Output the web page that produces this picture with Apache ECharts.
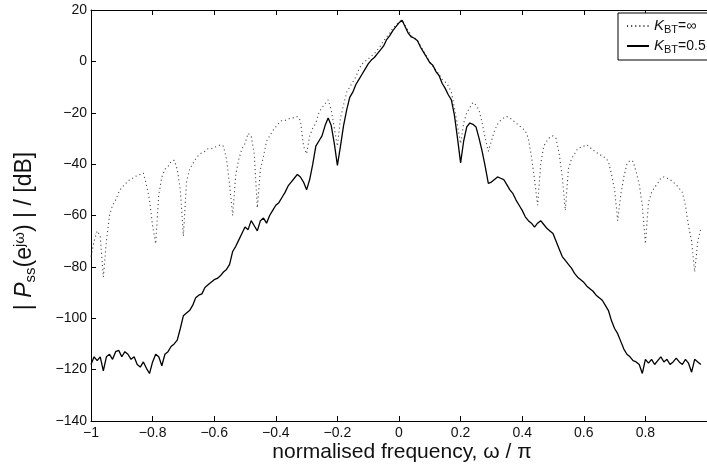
<!DOCTYPE html>
<html>
<head>
<meta charset="utf-8">
<script src="https://cdn.jsdelivr.net/npm/echarts@6/dist/echarts.min.js"></script>
<style>
html,body{margin:0;padding:0;background:#fff;}
#chart{width:707px;height:468px;}
</style>
</head>
<body>
<div id="chart"></div>
<script>
// Frequency grid (normalised frequency, omega/pi), sampled every 0.01 from -1 to 0.98
const freqStart = -1.0;
const freqStep = 0.01;
const freqCount = 199;

// |P_ss| in dB for K_BT = infinity (dotted)
const kInfValues = [
  -76, -70, -66, -68, -84, -70, -60, -56, -54, -51,
  -49, -48, -46.5, -46, -45, -44.5, -44, -43.5, -48, -54,
  -64, -71, -52, -45, -42, -41, -39, -38.5, -42, -50,
  -68, -47, -42, -40, -38, -36.5, -35.5, -35, -34, -34,
  -33.5, -33, -32.5, -33, -38, -48, -60, -44, -38, -34,
  -32, -28, -29, -36, -57, -42, -37, -31, -29, -27,
  -25.5, -24, -23, -23, -22.5, -22, -22, -21.5, -23, -33,
  -36, -29, -26, -24, -20, -18, -16.5, -15, -19, -26,
  -33, -22, -17, -12, -10, -8, -6, -3, -1, 0,
  1, 2, 3, 4.5, 6, 8, 9.5, 11, 13, 14,
  15.5, 16, 14, 12, 10, 9, 8, 6, 4, 2,
  0, -2, -3.5, -5, -7, -8, -9.5, -12, -18, -25,
  -32, -24, -20, -18, -16, -17, -19, -24, -30, -35,
  -31, -27, -24.5, -23, -22, -21.5, -22, -23, -24, -25,
  -26, -27, -30, -37, -46, -56, -40, -33, -31, -29.5,
  -29, -30, -36, -45, -58, -42, -38, -36, -34, -33.5,
  -33, -32.5, -33.5, -34.5, -35.5, -36, -37, -37.5, -39, -44,
  -50, -62, -52, -45, -40, -38.5, -39, -43, -48, -56,
  -71, -55, -51, -49, -47.5, -45.5, -45, -45.5, -46, -47,
  -48, -49.5, -51, -56, -64, -70, -82, -70, -65
];

// |P_ss| in dB for K_BT = 0.5 (solid)
const k05Values = [
  -118, -115, -116.5, -115, -120.5, -115, -114, -116, -113, -112.5,
  -115, -113, -114, -116, -115, -118, -119, -117, -119.5, -121.5,
  -117, -114, -115, -118.5, -114, -113, -111, -110, -108.5, -104,
  -99, -98, -97, -95, -92, -91, -90.5, -88, -87, -86,
  -85, -84.5, -83.5, -82, -81, -79, -74, -72, -69.5, -67,
  -64.5, -65.5, -62, -64, -66, -62, -61, -63, -60, -58,
  -56, -55, -53, -51, -48.5, -47, -45.5, -44, -45, -47,
  -50, -46, -40, -33, -31, -29, -25, -22, -25, -32,
  -40.5, -33, -25, -19, -14, -12, -9, -7, -5, -3,
  -1, 0.5, 1.5, 3, 4.5, 6, 8.5, 10, 12, 13.5,
  15, 16, 13.5, 11, 9.5, 9, 8, 5.5, 3.5, 1.5,
  -0.5, -1.5, -4, -5.5, -8.5, -10.5, -13, -15, -21, -30,
  -39.5, -31, -25.5, -24, -24.5, -25.5, -30, -35, -41, -47.5,
  -47, -46, -45, -45.5, -46, -48, -50, -51.5, -54, -56,
  -58, -60.5, -62, -63, -64.5, -63, -62, -63.5, -65, -66,
  -67, -70, -73, -76, -77.5, -79, -80.5, -82.5, -84, -85,
  -86, -87.5, -88.5, -89.5, -91, -92, -93, -95, -97, -101,
  -104, -106, -109, -112, -114, -115, -116.5, -117, -118, -121.5,
  -116, -117.5, -116, -118, -116.5, -115, -117, -116, -118, -117,
  -115.5, -117, -118, -116, -117.5, -121, -116, -117, -118
];

const seriesNames = ['K_BT=∞', 'K_BT=0.5'];

const freq = [];
for (let i = 0; i < freqCount; i++) freq.push(+(freqStart + i * freqStep).toFixed(2));
const pairs = vals => vals.map((v, i) => [freq[i], v]);

const fmtTick = v => {
  let s = (+v.toFixed(1)).toString();
  return s.replace('-', '\u2212');
};

const chart = echarts.init(document.getElementById('chart'), null, {renderer: 'canvas'});
const FONT = 'Liberation Sans, Arial, Helvetica, sans-serif';

chart.setOption({
  backgroundColor: '#ffffff',
  animation: false,
  textStyle: {fontFamily: FONT},
  grid: {left: 91, top: 10, bottom: 47, right: -6, containLabel: false},
  xAxis: [{
    type: 'value', min: -1, max: 1, interval: 0.2,
    axisLine: {show: true, onZero: false, lineStyle: {color: '#000', width: 1}},
    axisTick: {show: true, inside: true, length: 5, lineStyle: {color: '#000'}},
    axisLabel: {show: true, margin: 5, fontSize: 14, color: '#111', fontFamily: FONT,
      showMaxLabel: false, formatter: fmtTick},
    splitLine: {show: false}
  }, {
    type: 'value', position: 'top', min: -1, max: 1, interval: 0.2,
    axisLine: {show: true, onZero: false, lineStyle: {color: '#000', width: 1}},
    axisTick: {show: true, inside: true, length: 5, lineStyle: {color: '#000'}},
    axisLabel: {show: false},
    splitLine: {show: false}
  }],
  yAxis: {
    type: 'value', min: -140, max: 20, interval: 20,
    axisLine: {show: true, onZero: false, lineStyle: {color: '#000', width: 1}},
    axisTick: {show: true, inside: true, length: 5, lineStyle: {color: '#000'}},
    axisLabel: {show: true, margin: 4, fontSize: 14, color: '#111', fontFamily: FONT, formatter: fmtTick},
    splitLine: {show: false}
  },
  legend: {
    show: true, orient: 'vertical', left: 618, top: 13,
    padding: [5, 6, 5, 8], itemGap: 3, itemWidth: 22, itemHeight: 14,
    borderColor: '#000', borderWidth: 1, backgroundColor: '#fff',
    itemStyle: {opacity: 0},
    data: seriesNames,
    formatter: name => {
      const rest = name.split('_BT')[1];
      return '{k|K}{s|BT}{t|' + rest + '}';
    },
    textStyle: {
      fontFamily: FONT, color: '#111', fontSize: 14,
      rich: {
        k: {fontStyle: 'italic', fontSize: 15, fontFamily: FONT, color: '#111', lineHeight: 18},
        s: {fontSize: 11, fontFamily: FONT, color: '#111', verticalAlign: 'bottom', lineHeight: 12, padding: [6, 0, 0, 0]},
        t: {fontSize: 14, fontFamily: FONT, color: '#111', lineHeight: 18}
      }
    }
  },
  graphic: [{
    type: 'text',
    x: 25, y: 231,
    rotation: Math.PI / 2,
    style: {
      text: '{n|| }{p|P}{sub|ss}{n|(e}{sup|jω}{n|) | / [dB]}',
      textAlign: 'center', textVerticalAlign: 'middle',
      fill: '#111',
      rich: {
        n: {fontSize: 23, fontFamily: FONT, fill: '#111'},
        p: {fontSize: 23, fontFamily: FONT, fontStyle: 'italic', fill: '#111'},
        sub: {fontSize: 15, fontFamily: FONT, fill: '#111', verticalAlign: 'bottom', padding: [11, 0, 0, 0]},
        sup: {fontSize: 15, fontFamily: FONT, fill: '#111', verticalAlign: 'top', padding: [0, 0, 11, 0]}
      }
    }
  }, {
    type: 'text',
    x: 402, y: 452,
    style: {
      text: 'normalised frequency, ω / π',
      textAlign: 'center', textVerticalAlign: 'middle',
      fill: '#111', fontSize: 21, fontFamily: FONT
    }
  }],
  series: [{
    name: seriesNames[0], type: 'line', xAxisIndex: 0,
    data: pairs(kInfValues), symbol: 'none', showSymbol: false,
    lineStyle: {color: '#444', width: 1.1, type: [1.1, 3]},
    itemStyle: {color: '#444'},
    z: 2
  }, {
    name: seriesNames[1], type: 'line', xAxisIndex: 0,
    data: pairs(k05Values), symbol: 'none', showSymbol: false,
    lineStyle: {color: '#000', width: 1.3, type: 'solid'},
    itemStyle: {color: '#000'},
    z: 3
  }]
});
</script>
</body>
</html>
